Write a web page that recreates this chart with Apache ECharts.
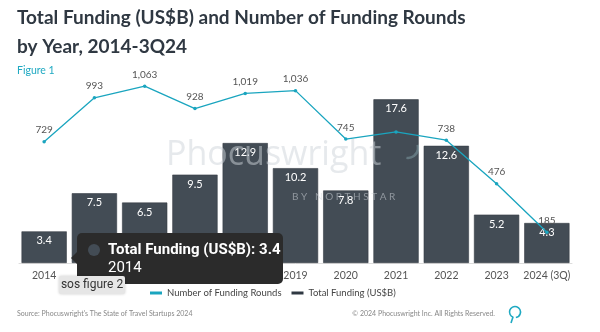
<!DOCTYPE html>
<html><head><meta charset="utf-8">
<script src="https://cdn.jsdelivr.net/npm/echarts@6/dist/echarts.min.js"></script>
<style>html,body{margin:0;padding:0;background:#fff}#c{width:600px;height:332px}</style>
</head><body><div id="c"></div>
<script>
const categories = ['2014','2015','2016','2017','2018','2019','2020','2021','2022','2023','2024 (3Q)'];
const totalFunding = [3.4, 7.5, 6.5, 9.5, 12.9, 10.2, 7.8, 17.6, 12.6, 5.2, 4.3];
const fundingRounds = [729, 993, 1063, 928, 1019, 1036, 745, 788, 738, 476, 185];
const hiddenRoundLabels = ['2021'];

const chart = echarts.init(document.getElementById('c'), null, {renderer:'canvas'});
const F = 'Lato, "Noto Sans", sans-serif';
const lineIcon = 'path://M0,0H12V3H0Z';
chart.setOption({
  animation:false,
  textStyle:{fontFamily:F},
  title:[
    {text:'Total Funding (US$B) and Number of Funding Rounds\nby Year, 2014-3Q24', left:12, top:-2,
     textStyle:{fontSize:19, fontWeight:'bold', color:'#2f3842', lineHeight:29, fontFamily:F}},
    {text:'Figure 1', left:12, top:60, textStyle:{fontSize:10.5, fontWeight:'normal', color:'#1fa9c2', fontFamily:F}}
  ],
  grid:{left:19, right:28, top:77, bottom:69, containLabel:false},
  legend:{left:145, top:283, itemWidth:12, itemHeight:3, itemGap:10,
    textStyle:{fontSize:9.5, color:'#444', fontFamily:F},
    data:[{name:'Number of Funding Rounds', icon:lineIcon, itemStyle:{color:'#1aa5bf', borderWidth:0}},
          {name:'Total Funding (US$B)', icon:lineIcon, itemStyle:{color:'#2f3842', borderWidth:0}}]},
  xAxis:{type:'category', data:categories,
    axisLine:{lineStyle:{color:'#dddddd'}}, axisTick:{show:false},
    axisLabel:{fontSize:10.5, color:'#555', margin:7, interval:0, fontFamily:F}},
  yAxis:[
    {type:'value', min:0, max:20, show:false, splitLine:{show:false}},
    {type:'value', min:0, max:1118, show:false, splitLine:{show:false}}
  ],
  series:[
    {name:'Total Funding (US$B)', type:'bar', data:totalFunding, barCategoryGap:'10%',
     itemStyle:{color:'#434c55', borderColor:'#363d45', borderWidth:0.6},
     label:{show:true, position:'insideTop', distance:4, color:'#fff', fontSize:11, fontFamily:F}},
    {name:'Number of Funding Rounds', type:'line', yAxisIndex:1, z:5,
     data:fundingRounds.map((v,i)=>({value:v, label:{show: !hiddenRoundLabels.includes(categories[i])}})),
     symbol:'circle', symbolSize:3.5, lineStyle:{color:'#1aa5bf', width:1.3},
     itemStyle:{color:'#1aa5bf'},
     label:{show:true, position:'top', distance:5, color:'#555', fontSize:10, fontFamily:F,
       formatter:p=>p.value.toLocaleString('en-US')}}
  ],
  graphic:[
    {type:'text', z:50, silent:true,
     style:{x:166, y:155, verticalAlign:'middle', text:'Phocuswright', fontSize:34, fontWeight:500, fill:'rgba(205,211,217,0.5)', fontFamily:'"Open Sans", sans-serif'}},
    {type:'text', z:50, silent:true,
     style:{x:292, y:197, verticalAlign:'middle', text:'B Y   N O R T H S T A R', fontSize:10, fill:'rgba(205,211,217,0.55)', fontFamily:F}},
    {type:'arc', z:50, silent:true, shape:{cx:408, cy:148, r:10, startAngle:Math.PI*0.55, endAngle:Math.PI*1.9, clockwise:false}, style:{fill:null, stroke:'rgba(160,200,205,0.35)', lineWidth:2.5}},
    {type:'polygon', zlevel:1, z:100, shape:{points:[[77,252],[71,258],[77,264]]}, style:{fill:'#2b2b2b'}},
    {type:'rect', zlevel:1, z:100, shape:{x:77, y:233, width:206, height:51, r:5}, style:{fill:'#2b2b2b'}},
    {type:'circle', zlevel:1, z:101, shape:{cx:94, cy:250, r:6}, style:{fill:'#434c55'}},
    {type:'text', zlevel:1, z:101, style:{x:108, y:250, text:'Total Funding (US$B): 3.4', fontSize:15, fontWeight:'bold', fill:'#fff', verticalAlign:'middle', fontFamily:'Roboto, sans-serif'}},
    {type:'text', zlevel:1, z:101, style:{x:108, y:268, text:'2014', fontSize:15, fill:'#fff', verticalAlign:'middle', fontFamily:'Roboto, sans-serif'}},
    {type:'rect', zlevel:1, z:102, shape:{x:59, y:276, width:66, height:18, r:2}, style:{fill:'#e6e6e6', shadowBlur:3, shadowColor:'rgba(0,0,0,0.2)'}},
    {type:'text', zlevel:1, z:103, style:{x:92, y:285, text:'sos figure 2', fontSize:12, fill:'#333', align:'center', verticalAlign:'middle', fontFamily:'Roboto, sans-serif'}},
    {type:'text', style:{x:17, y:310, text:"Source: Phocuswright's The State of Travel Startups 2024", fontSize:7, fill:'#888', fontFamily:F}},
    {type:'text', style:{x:495, y:310, align:'right', text:'© 2024 Phocuswright Inc. All Rights Reserved.', fontSize:7, fill:'#888', fontFamily:F}},
    {type:'arc', shape:{cx:515, cy:312, r:5.5, startAngle:Math.PI*0.6, endAngle:Math.PI*0.45}, style:{fill:null, stroke:'#1fa9c2', lineWidth:1.6}},
    {type:'line', shape:{x1:513, y1:317, x2:511, y2:323}, style:{stroke:'#1fa9c2', lineWidth:1.6}}
  ]
});
</script></body></html>
